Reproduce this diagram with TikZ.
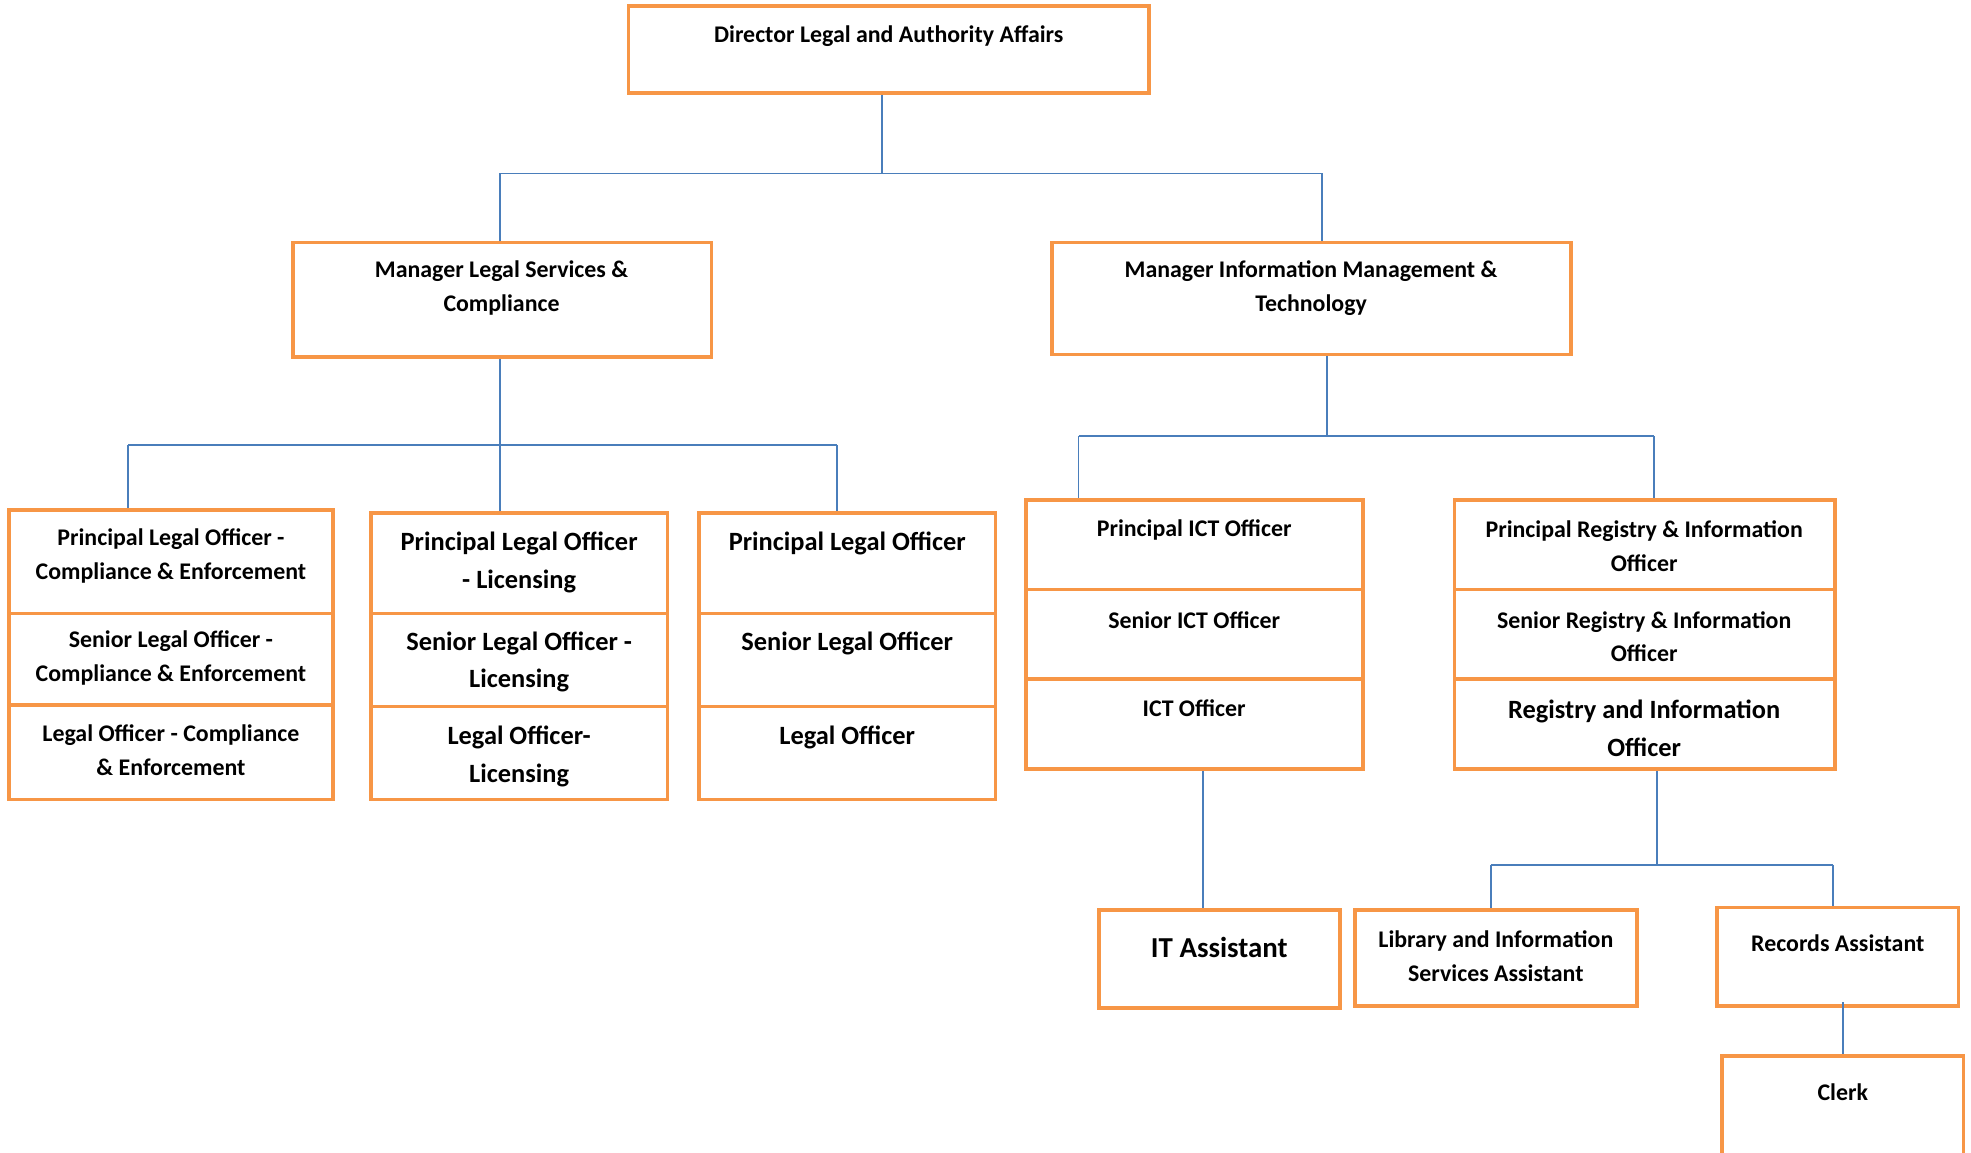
\documentclass[tikz,border=0pt]{standalone}
\usepackage{fontspec}
\setmainfont{Carlito}
\usepackage{xcolor}
\usepackage{tikz}
\definecolor{boxorange}{HTML}{F79646}
\definecolor{linkblue}{HTML}{4A7EBB}

\begin{document}
\begin{tikzpicture}[x=1pt,y=-1pt,line join=miter,
  obox/.style={draw=boxorange,line width=3pt,inner sep=0pt},
  link/.style={draw=linkblue,line width=1.5pt},
  txt/.style={font=\bfseries\fontsize{19}{27}\selectfont,align=center,inner sep=0pt,yshift=-1.5pt},
  bigtxt/.style={font=\bfseries\fontsize{21}{30}\selectfont,align=center,inner sep=0pt,yshift=-1.5pt}]
\useasboundingbox (0,0) rectangle (1568,916.5);

% top level
\node[obox,minimum width=414pt,minimum height=69pt] (dir) at (707,39.5) {};
\node[txt] (dirt) at (707,27) {Director Legal and Authority Affairs};

% managers
\node[obox,minimum width=333pt,minimum height=91pt] (mls) at (399.5,238.5) {};
\node[txt] (mlst) at (399,227.5) {Manager Legal Services \&\\Compliance};
\node[obox,minimum width=413pt,minimum height=89pt] (mim) at (1043.5,237.5) {};
\node[txt] (mimt) at (1043,227.5) {Manager Information Management \&\\Technology};

% legal, compliance and enforcement
\node[obox,minimum width=258pt,minimum height=82pt] (plo1) at (136,447) {};
\node[obox,minimum width=258pt,minimum height=73pt] (slo1) at (136,524.5) {};
\node[obox,minimum width=258pt,minimum height=75pt] (lo1) at (136,598.5) {};
\node[txt] (plo1t) at (136,441) {Principal Legal Officer -\\Compliance \& Enforcement};
\node[txt] (slo1t) at (136,522) {Senior Legal Officer -\\Compliance \& Enforcement};
\node[txt] (lo1t) at (136,595) {Legal Officer - Compliance\\\& Enforcement};

% legal, licensing
\node[obox,minimum width=236pt,minimum height=80pt] (plo2) at (413,448) {};
\node[obox,minimum width=236pt,minimum height=74pt] (slo2) at (413,525) {};
\node[obox,minimum width=236pt,minimum height=74pt] (lo2) at (413,599) {};
\node[bigtxt] (plo2t) at (413,446) {Principal Legal Officer\\- Licensing};
\node[bigtxt] (slo2t) at (413,525) {Senior Legal Officer -\\Licensing};
\node[bigtxt] (lo2t) at (413,600) {Legal Officer-\\Licensing};

% legal
\node[obox,minimum width=236pt,minimum height=80pt] (plo3) at (674,448) {};
\node[obox,minimum width=236pt,minimum height=74pt] (slo3) at (674,525) {};
\node[obox,minimum width=236pt,minimum height=74pt] (lo3) at (674,599) {};
\node[bigtxt] (plo3t) at (674,431) {Principal Legal Officer};
\node[bigtxt] (slo3t) at (674,510) {Senior Legal Officer};
\node[bigtxt] (lo3t) at (674,585) {Legal Officer};

% ict
\node[obox,minimum width=268pt,minimum height=71pt] (pict) at (950,433.5) {};
\node[obox,minimum width=268pt,minimum height=71pt] (sict) at (950,504.5) {};
\node[obox,minimum width=268pt,minimum height=72pt] (ict) at (950,576) {};
\node[txt] (pictt) at (950,420) {Principal ICT Officer};
\node[txt] (sictt) at (950,492) {Senior ICT Officer};
\node[txt] (ictt) at (950,562) {ICT Officer};

% registry
\node[obox,minimum width=303pt,minimum height=71pt] (pri) at (1308.5,433.5) {};
\node[obox,minimum width=303pt,minimum height=71pt] (sri) at (1308.5,504.5) {};
\node[obox,minimum width=303pt,minimum height=72pt] (ri) at (1308.5,576) {};
\node[txt] (prit) at (1308,433) {Principal Registry \& Information\\Officer};
\node[txt] (srit) at (1308,505) {Senior Registry \& Information\\Officer};
\node[bigtxt] (rit) at (1308,578) {Registry and Information\\Officer};

% assistants
\node[obox,minimum width=192pt,minimum height=78pt] (ita) at (970,763) {};
\node[txt,font=\bfseries\fontsize{23}{30}\selectfont] (itat) at (970,752) {IT Assistant};
\node[obox,minimum width=224pt,minimum height=76pt] (lib) at (1190,762) {};
\node[txt] (libt) at (1190,759) {Library and Information\\Services Assistant};
\node[obox,minimum width=192pt,minimum height=78pt] (rec) at (1462,761) {};
\node[txt] (rect) at (1462,749) {Records Assistant};
\node[obox,minimum width=192pt,minimum height=120pt] (clerk) at (1466,900) {};
\node[txt] (clerkt) at (1466,867) {Clerk};

% connectors
\coordinate (b0) at (702,138);
\coordinate (b0l) at (398,138);
\coordinate (b0r) at (1052,138);
\draw[link] (dir.south -| b0) -- (b0);
\draw[link] (b0l) -- (b0r);
\draw[link] (b0l) -- (b0l |- mls.north);
\draw[link] (b0r) -- (b0r |- mim.north);

\coordinate (b1) at (398,354);
\coordinate (b1l) at (102,354);
\coordinate (b1r) at (666,354);
\draw[link] (mls.south -| b1) -- (b1 |- plo2.north);
\draw[link] (b1l) -- (b1r);
\draw[link] (b1l) -- (b1l |- plo1.north);
\draw[link] (b1r) -- (b1r |- plo3.north);

\coordinate (b2) at (1056,347);
\coordinate (b2l) at (858,347);
\coordinate (b2r) at (1316,347);
\draw[link] (mim.south -| b2) -- (b2);
\draw[link] (b2l) -- (b2r);
\draw[link] (b2l) -- (b2l |- pict.north);
\draw[link] (b2r) -- (b2r |- pri.north);

\coordinate (b3) at (957,612);
\draw[link] (ict.south -| b3) -- (b3 |- ita.north);

\coordinate (b4) at (1318,688);
\coordinate (b4l) at (1186,688);
\coordinate (b4r) at (1458,688);
\draw[link] (ri.south -| b4) -- (b4);
\draw[link] (b4l) -- (b4r);
\draw[link] (b4l) -- (b4l |- lib.north);
\draw[link] (b4r) -- (b4r |- rec.north);

\draw[link] ([yshift=4pt]rec.south -| clerk.north) -- (clerk.north);
\end{tikzpicture}
\end{document}
